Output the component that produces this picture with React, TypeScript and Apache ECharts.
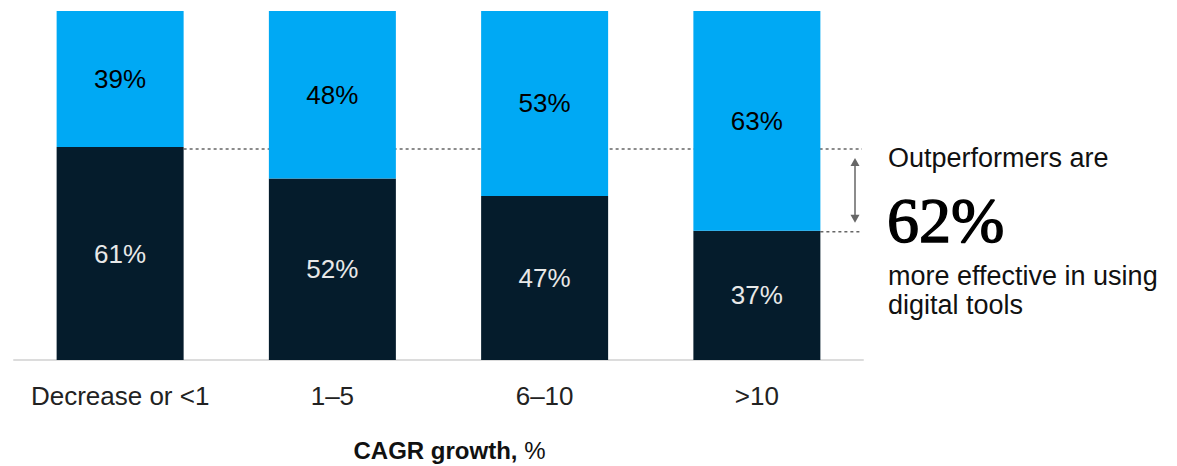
import React, { useEffect, useRef } from "react";
import * as echarts from "echarts";

const categories = ["Decrease or <1", "1\u20135", "6\u201310", ">10"];
const lowShare = [61, 52, 47, 37];
const highShare = [39, 48, 53, 63];
const calloutTitle = "Outperformers are";
const calloutValue = "62%";
const calloutLines = ["more effective in using", "digital tools"];

const DARK = "#051c2c";
const BLUE = "#00a9f4";
const SANS = "'Liberation Sans', Arial, sans-serif";

export default function App() {
  const ref = useRef<HTMLDivElement>(null);
  useEffect(() => {
    if (!ref.current) return;
    const chart = echarts.init(ref.current, undefined, { renderer: "svg" });
    const barWidth = 127;
    chart.setOption({
      animation: false,
      grid: { left: 14, right: 314, top: 11, bottom: 106, containLabel: false, outerBoundsMode: "none" },
      xAxis: {
        type: "category",
        data: categories,
        axisLine: { show: true, lineStyle: { color: "#dcdcdc", width: 2 } },
        axisTick: { show: false },
        axisLabel: { color: "#222", fontSize: 26, fontFamily: SANS, margin: 23, interval: 0 },
        name: "{b|CAGR growth, }{n|%}",
        nameLocation: "middle",
        nameGap: 78,
        nameTextStyle: {
          padding: [0, 0, 0, 22],
          rich: {
            b: { fontSize: 24, fontWeight: "bold", color: "#111", fontFamily: SANS },
            n: { fontSize: 24, color: "#111", fontFamily: SANS },
          },
        },
      },
      yAxis: { type: "value", min: 0, max: 100, show: false, splitLine: { show: false } },
      series: [
        {
          type: "bar",
          stack: "s",
          data: lowShare,
          barWidth,
          itemStyle: { color: DARK },
          label: {
            show: true,
            position: "inside",
            formatter: "{c}%",
            color: "#e8e8e8",
            fontSize: 26,
            fontFamily: SANS,
          },
        },
        {
          type: "bar",
          stack: "s",
          data: highShare,
          barWidth,
          itemStyle: { color: BLUE },
          label: {
            show: true,
            position: "inside",
            formatter: "{c}%",
            color: "#000",
            fontSize: 26,
            fontFamily: SANS,
          },
        },
      ],
    });

    const first = chart.convertToPixel({ gridIndex: 0 }, [0, lowShare[0]]) as number[];
    const lastIdx = categories.length - 1;
    const last = chart.convertToPixel({ gridIndex: 0 }, [lastIdx, lowShare[lastIdx]]) as number[];
    const lineEnd = 862;
    const y1 = first[1] + 2;
    const y2 = last[1] + 1;
    const ax = 855;
    const grey = "#666";
    chart.setOption({
      graphic: [
        {
          type: "line",
          shape: { x1: first[0] + barWidth / 2, y1, x2: lineEnd, y2: y1 },
          style: { stroke: grey, lineWidth: 1.5, lineDash: [3, 3] },
        },
        {
          type: "line",
          shape: { x1: last[0] + barWidth / 2, y1: y2, x2: lineEnd, y2: y2 },
          style: { stroke: grey, lineWidth: 1.5, lineDash: [3, 3] },
        },
        {
          type: "line",
          shape: { x1: ax, y1: y1 + 14, x2: ax, y2: y2 - 14 },
          style: { stroke: grey, lineWidth: 1.5 },
        },
        {
          type: "polygon",
          shape: { points: [[ax, y1 + 9], [ax - 4.5, y1 + 17], [ax + 4.5, y1 + 17]] },
          style: { fill: grey },
        },
        {
          type: "polygon",
          shape: { points: [[ax, y2 - 9], [ax - 4.5, y2 - 17], [ax + 4.5, y2 - 17]] },
          style: { fill: grey },
        },
        {
          type: "text",
          x: 888,
          y: 158,
          style: { text: calloutTitle, fontSize: 27, fontFamily: SANS, fill: "#111", verticalAlign: "middle" },
        },
        {
          type: "text",
          x: 887,
          y: 220,
          style: {
            text: calloutValue,
            fontSize: 64,
            fontFamily: "'Liberation Serif', 'DejaVu Serif', serif",
            fill: "#000",
            stroke: "#000",
            lineWidth: 1.4,
            verticalAlign: "middle",
          },
        },
        {
          type: "text",
          x: 888,
          y: 276,
          style: { text: calloutLines[0], fontSize: 27, fontFamily: SANS, fill: "#111", verticalAlign: "middle" },
        },
        {
          type: "text",
          x: 888,
          y: 305,
          style: { text: calloutLines[1], fontSize: 27, fontFamily: SANS, fill: "#111", verticalAlign: "middle" },
        },
      ],
    });
    return () => chart.dispose();
  }, []);
  return (
    <div
      ref={ref}
      style={{ position: "fixed", left: 0, top: 0, width: 1177, height: 466, background: "#fff" }}
    />
  );
}
